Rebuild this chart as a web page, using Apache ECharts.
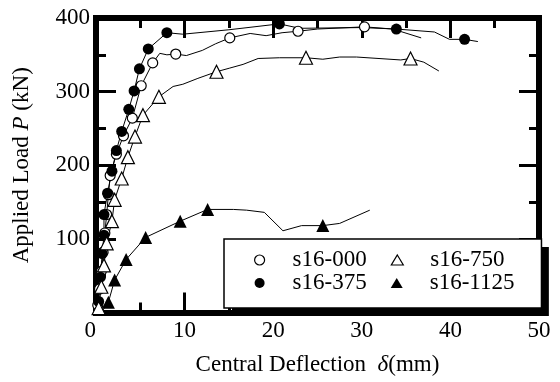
<!DOCTYPE html>
<html>
<head>
<meta charset="utf-8">
<script src="https://cdn.jsdelivr.net/npm/echarts@6/dist/echarts.min.js"></script>
<style>html,body{margin:0;padding:0;background:#fff}#c{width:560px;height:382px}</style>
</head>
<body>
<div id="c"></div>
<script>
// Axis ranges / ticks
const xMin = 0, xMax = 50, xStep = 10;
const yMin = 0, yMax = 400, yStep = 100;
const seriesNames = ['s16-000', 's16-375', 's16-750', 's16-1125'];
const legendOrder = ['s16-000', 's16-750', 's16-375', 's16-1125'];
const xTitle = 'Central Deflection  {i|δ}(mm)';
const yTitle = 'Applied Load {i|P} (kN)';

// s16-000 (open circles)
const s000Marks = [[0.2,10],[0.4,32],[0.6,56],[0.8,82],[1.0,108],[1.2,133],[1.4,160],[1.6,186],[2.3,215],[3.1,240],[4.1,264],[5.1,308],[6.4,339],[9.0,351],[15.1,373],[22.8,382],[30.3,388]];
const s000Curve = [[0.2,10],[0.4,32],[0.6,56],[0.8,82],[1.0,108],[1.2,133],[1.4,160],[1.6,186],[2.3,215],[3.1,240],[4.1,264],[5.1,308],[6.4,339],[7.2,352],[8.0,350],[9.0,351],[10.2,349],[12.0,356],[13.5,365],[15.1,373],[17.4,379],[19.2,376],[21.0,380],[22.8,382],[25.0,385],[30.3,388],[33.5,385],[36.7,373]];

// s16-375 (filled circles)
const s375Marks = [[0.3,15],[0.5,48],[0.7,80],[0.9,105],[0.9,133],[1.3,162],[1.8,192],[2.3,220],[2.9,246],[3.7,276],[4.3,301],[4.9,331],[5.9,358],[8.0,380],[20.7,392],[33.9,385],[41.6,371]];
const s375Curve = [[0.3,15],[0.5,48],[0.7,80],[0.9,105],[0.9,133],[1.3,162],[1.8,192],[2.3,220],[2.9,246],[3.7,276],[4.3,301],[4.9,331],[5.9,358],[8.0,380],[9.8,378],[15.0,384],[20.7,392],[23.0,386],[30.0,387],[33.9,385],[38.2,381],[39.9,371],[41.6,371],[43.1,368]];

// s16-750 (open triangles)
const s750Marks = [[0.3,6],[0.6,35],[0.9,64],[1.2,94],[1.8,124],[2.1,153],[2.9,182],[3.6,211],[4.4,239],[5.3,268],[7.1,293],[13.6,327],[23.7,346],[35.5,345]];
const s750Curve = [[0.3,6],[0.6,35],[0.9,64],[1.2,94],[1.8,124],[2.1,153],[2.9,182],[3.6,211],[4.4,239],[5.3,268],[7.1,293],[8.7,307],[9.8,310],[11.5,318],[13.6,327],[15.1,332],[16.6,337],[18.3,345],[20.7,346],[23.7,346],[25.6,344],[27.5,347],[29.4,347],[34.4,343],[35.5,345],[37.0,340],[38.7,328]];

// s16-1125 (filled triangles)
const s1125Marks = [[1.4,14],[2.1,44],[3.4,72],[5.6,102],[9.5,124],[12.6,140],[25.6,118]];
const s1125Curve = [[0.6,0],[1.4,14],[2.1,44],[3.4,72],[5.6,102],[9.5,124],[12.6,140],[15.5,140],[17.0,139],[19.0,136],[21.1,111],[23.2,118],[25.6,118],[27.5,121],[30.9,139]];

const FONT = 'Liberation Serif';
const FS = 23;

const markStyles = {
  's16-000': {symbol: 'circle', size: 10, itemStyle: {color: '#fff', borderColor: '#000', borderWidth: 1.2, opacity: 1}},
  's16-375': {symbol: 'circle', size: 11, itemStyle: {color: '#000', borderColor: '#000', borderWidth: 0, opacity: 1}},
  's16-750': {symbol: 'triangle', size: 13, itemStyle: {color: '#fff', borderColor: '#000', borderWidth: 1.2, opacity: 1}},
  's16-1125': {symbol: 'triangle', size: 13, itemStyle: {color: '#000', borderColor: '#000', borderWidth: 0, opacity: 1}}
};
const marksByName = {'s16-000': s000Marks, 's16-375': s375Marks, 's16-750': s750Marks, 's16-1125': s1125Marks};
const curveByName = {'s16-000': s000Curve, 's16-375': s375Curve, 's16-750': s750Curve, 's16-1125': s1125Curve};
const firstColumn = {'s16-000': true, 's16-375': true};

const series = [];
seriesNames.forEach(function (n) {
  series.push({
    name: n + ' curve', type: 'line', data: curveByName[n], showSymbol: false, symbol: 'none',
    lineStyle: {color: '#000', width: 1, opacity: 1}, z: 2, silent: true, animation: false
  });
});
seriesNames.forEach(function (n, i) {
  const st = markStyles[n];
  series.push({
    name: n, type: 'scatter', data: marksByName[n], symbol: st.symbol, symbolSize: st.size,
    itemStyle: st.itemStyle, z: 3 + i, animation: false
  });
});

const axisCommon = {
  axisLine: {show: true, onZero: false, lineStyle: {color: '#000', width: 6, cap: 'square'}},
  axisTick: {show: true, inside: true, length: 20, lineStyle: {color: '#000', width: 3}},
  minorTick: {show: true, splitNumber: 2, length: 10, lineStyle: {color: '#000', width: 3}},
  splitLine: {show: false},
  minorSplitLine: {show: false}
};

function makeLegend(isShadow) {
  const ink = '#000';
  return {
    left: isShadow ? 232 : 224, top: isShadow ? 247 : 239, width: 320,
    z: isShadow ? 5 : 6,
    orient: 'horizontal',
    padding: [9.5, 27, 13.5, 30],
    itemGap: 0,
    itemWidth: 12, itemHeight: 10,
    backgroundColor: isShadow ? '#000' : '#fff',
    borderColor: '#000', borderWidth: isShadow ? 0 : 1.5,
    selectedMode: false,
    textStyle: {color: ink, fontFamily: FONT, fontSize: FS, lineHeight: 21,
      rich: {
        sp: {width: 22, fontFamily: FONT, fontSize: FS, lineHeight: 21},
        gap: {width: 24, fontFamily: FONT, fontSize: FS, lineHeight: 21},
        t: {fontFamily: FONT, fontSize: FS, lineHeight: 21, color: ink}
      }},
    formatter: function (name) {
      return '{sp| }{t|' + name + '}' + (firstColumn[name] ? '{gap| }' : '');
    },
    data: legendOrder.map(function (n) {
      const st = markStyles[n];
      return {
        name: n,
        icon: st.symbol,
        itemStyle: isShadow ? {color: '#000', borderColor: '#000', borderWidth: 0, opacity: 1}
          : {color: st.itemStyle.color, borderColor: '#000', borderWidth: st.itemStyle.color === '#fff' ? 1.2 : 0, opacity: 1}
      };
    })
  };
}

const option = {
  animation: false,
  backgroundColor: '#fff',
  grid: {left: 96, right: 21, top: 18, bottom: 69.5, containLabel: false, outerBoundsMode: 'none'},
  xAxis: [
    Object.assign({}, axisCommon, {
      type: 'value', position: 'bottom', min: xMin, max: xMax, interval: xStep,
      axisLabel: {color: '#000', fontFamily: FONT, fontSize: FS, margin: 7, alignMinLabel: 'right'},
      name: xTitle, nameLocation: 'middle', nameGap: 41,
      nameTextStyle: {color: '#000', fontFamily: FONT, fontSize: FS,
        rich: {i: {fontStyle: 'italic', fontFamily: FONT, fontSize: FS, color: '#000'}}}
    }),
    Object.assign({}, axisCommon, {
      type: 'value', position: 'top', min: xMin, max: xMax, interval: xStep,
      axisLabel: {show: false}
    })
  ],
  yAxis: [
    Object.assign({}, axisCommon, {
      type: 'value', position: 'left', min: yMin, max: yMax, interval: yStep,
      axisLabel: {color: '#000', fontFamily: FONT, fontSize: FS, margin: 6,
        formatter: function (v) { return v === 0 ? '' : String(v); }},
      name: yTitle, nameLocation: 'middle', nameGap: 63,
      nameTextStyle: {color: '#000', fontFamily: FONT, fontSize: FS,
        rich: {i: {fontStyle: 'italic', fontFamily: FONT, fontSize: FS, color: '#000'}}}
    }),
    Object.assign({}, axisCommon, {
      type: 'value', position: 'right', min: yMin, max: yMax, interval: yStep,
      axisLabel: {show: false}
    })
  ],
  legend: [makeLegend(false), makeLegend(true)],
  series: series
};

const chart = echarts.init(document.getElementById('c'), null, {renderer: 'canvas'});
chart.setOption(option);
</script>
</body>
</html>
